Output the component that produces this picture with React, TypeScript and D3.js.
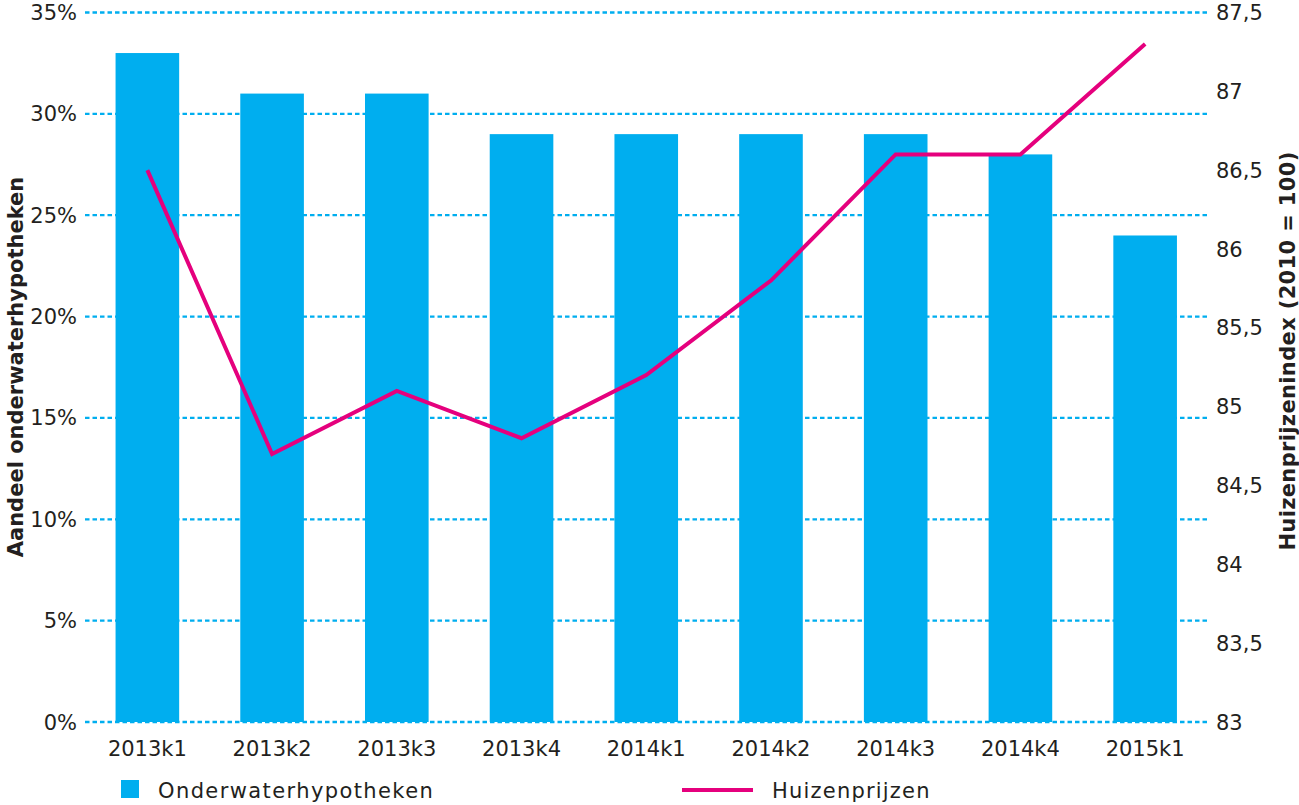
import React from "react";
import * as d3 from "d3";

const categories = ["2013k1", "2013k2", "2013k3", "2013k4", "2014k1", "2014k2", "2014k3", "2014k4", "2015k1"];
const onderwater = [33, 31, 31, 29, 29, 29, 29, 28, 24];
const huizenprijzen = [86.5, 84.7, 85.1, 84.8, 85.2, 85.8, 86.6, 86.6, 87.3];
const leftTicks = [0, 5, 10, 15, 20, 25, 30, 35];
const rightTicks = [83, 83.5, 84, 84.5, 85, 85.5, 86, 86.5, 87, 87.5];

const W = 1299;
const H = 805;
const plotL = 85;
const plotR = 1207.5;
const plotT = 12.5;
const plotB = 722;
const FONT = "'DejaVu Sans', sans-serif";
const BLUE = "#00aeef";
const PINK = "#e5007d";
const TEXT = "#231f20";

export default function App() {
  const x = d3.scaleBand<string>().domain(categories).range([plotL, plotR]).paddingInner(0.49).paddingOuter(0.245);
  const yL = d3.scaleLinear().domain([0, 35]).range([plotB, plotT]);
  const yR = d3.scaleLinear().domain([83, 87.5]).range([plotB, plotT]);
  const line = d3
    .line<number>()
    .x((_, i) => (x(categories[i]) as number) + x.bandwidth() / 2)
    .y((d) => yR(d));
  const fmtR = (v: number) => String(v).replace(".", ",");

  return (
    <svg width={W} height={H} style={{ position: "absolute", left: 0, top: 0, background: "#fff" }} fontFamily={FONT}>
      {leftTicks.map((t) => (
        <line key={"g" + t} x1={plotL} x2={plotR} y1={yL(t)} y2={yL(t)} stroke={BLUE} strokeWidth={2.3} strokeDasharray="4.5 3" />
      ))}
      {categories.map((c, i) => (
        <rect key={c} x={x(c)} y={yL(onderwater[i])} width={x.bandwidth()} height={plotB - yL(onderwater[i])} fill={BLUE} />
      ))}
      <path d={line(huizenprijzen) || ""} fill="none" stroke={PINK} strokeWidth={4} strokeLinejoin="miter" />
      {leftTicks.map((t) => (
        <text key={"l" + t} x={77} y={yL(t)} dy="0.36em" textAnchor="end" fontSize={21} fill={TEXT}>
          {t}%
        </text>
      ))}
      {rightTicks.map((t) => (
        <text key={"r" + t} x={1216} y={yR(t)} dy="0.36em" textAnchor="start" fontSize={21} fill={TEXT}>
          {fmtR(t)}
        </text>
      ))}
      {categories.map((c) => (
        <text key={"x" + c} x={(x(c) as number) + x.bandwidth() / 2} y={748} dy="0.36em" textAnchor="middle" fontSize={21} fill={TEXT}>
          {c}
        </text>
      ))}
      <text transform={`translate(15,367) rotate(-90)`} dy="0.36em" textAnchor="middle" fontSize={21} fontWeight="bold" fill={TEXT}>
        Aandeel onderwaterhypotheken
      </text>
      <text transform={`translate(1287,351) rotate(-90)`} dy="0.36em" textAnchor="middle" fontSize={21} fontWeight="bold" letterSpacing={0.35} fill={TEXT}>
        Huizenprijzenindex (2010 = 100)
      </text>
      <rect x={121} y={780} width={18} height={18} fill={BLUE} />
      <text x={158} y={790} dy="0.36em" fontSize={21} letterSpacing={1.4} fill={TEXT}>
        Onderwaterhypotheken
      </text>
      <line x1={682} x2={753} y1={790} y2={790} stroke={PINK} strokeWidth={4} />
      <text x={772} y={790} dy="0.36em" fontSize={21} letterSpacing={1.2} fill={TEXT}>
        Huizenprijzen
      </text>
    </svg>
  );
}
